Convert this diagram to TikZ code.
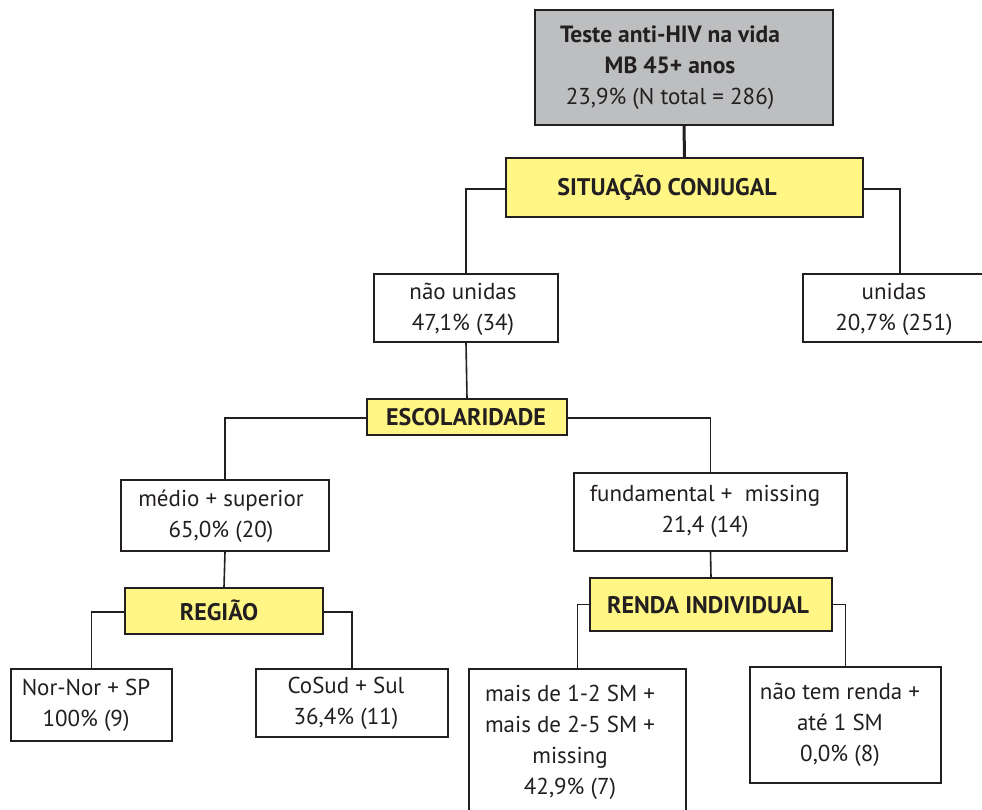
\documentclass[tikz,border=0pt]{standalone}
\usepackage{fontspec}
\setmainfont{PT Sans}
\definecolor{edge}{HTML}{231F20}
\definecolor{greyfill}{HTML}{BCBEC0}
\definecolor{yellowfill}{HTML}{FFF685}
\begin{document}
\begin{tikzpicture}[x=1pt,y=-1pt,
  box/.style={rectangle, draw=edge, line width=1.8pt, fill=white, inner sep=0pt},
  factor/.style={box, fill=yellowfill},
  root/.style={box, fill=greyfill},
  txt/.style={align=center, text=edge, inner sep=0pt, font=\fontsize{23}{31}\selectfont},
  btxt/.style={txt, font=\fontsize{24}{31}\selectfont\bfseries},
  link/.style={draw=edge, line width=1.6pt},
]
\clip (0,0) rectangle (982,810);
\fill[white] (0,0) rectangle (982,810);

% boxes
\node[root,   minimum width=298pt, minimum height=115pt] (top)    at (684,67.5)  {};
\node[factor, minimum width=357pt, minimum height=59pt]  (sit)    at (684.5,187.5) {};
\node[box,    minimum width=184pt, minimum height=68pt]  (nao)    at (466,308)   {};
\node[box,    minimum width=194pt, minimum height=68pt]  (uni)    at (900,308)   {};
\node[factor, minimum width=200pt, minimum height=36pt]  (esc)    at (467,417)   {};
\node[box,    minimum width=208pt, minimum height=71pt]  (med)    at (225,515.5) {};
\node[box,    minimum width=273pt, minimum height=78pt]  (fund)   at (710.5,512) {};
\node[factor, minimum width=198pt, minimum height=46pt]  (reg)    at (224,611)   {};
\node[factor, minimum width=242pt, minimum height=53pt]  (renda)  at (711,604.5) {};
\node[box,    minimum width=161pt, minimum height=72pt]  (nor)    at (91.5,705)  {};
\node[box,    minimum width=192pt, minimum height=68pt]  (cosud)  at (352,703)   {};
\node[box,    minimum width=217pt, minimum height=147pt] (mais)   at (577.5,742.5) {};
\node[box,    minimum width=191pt, minimum height=116pt] (semr)   at (845.5,725) {};

% texts
\node[txt] (topT) at (670,68) {{\fontsize{23.5}{31}\selectfont\bfseries Teste anti-HIV na vida}\\{\fontsize{23.5}{31}\selectfont\bfseries MB 45+ anos}\\23,9\% (N total = 286)};
\node[btxt] (sitT) at (667,188) {SITUAÇÃO CONJUGAL};
\node[txt] (naoT) at (463,309) {não unidas\\47,1\% (34)};
\node[txt] (uniT) at (894,309) {unidas\\20,7\% (251)};
\node[btxt] (escT) at (466,417) {ESCOLARIDADE};
\node[txt] (medT) at (221,516) {médio + superior\\65,0\% (20)};
\node[txt] (fundT) at (705,511) {fundamental +\ \ missing\\21,4 (14)};
\node[btxt] (regT) at (219,610) {REGIÃO};
\node[btxt] (rendaT) at (708,605) {RENDA INDIVIDUAL};
\node[txt] (norT) at (86,705.5) {Nor-Nor + SP\\100\% (9)};
\node[txt] (cosudT) at (346,703.5) {CoSud + Sul\\36,4\% (11)};
\node[txt] (maisT) at (570,742.5) {mais de 1-2 SM +\\mais de 2-5 SM +\\missing\\42,9\% (7)};
\node[txt] (semrT) at (840,725) {não tem renda +\\até 1 SM\\0,0\% (8)};

% connectors
\draw[link, line width=3pt] (top.south) -- (sit.north);
\draw[link] ([yshift=-1.5pt]sit.west) -| (nao.north);
\draw[link] ([yshift=-1.5pt]sit.east) -| (uni.north);
\draw[link] (nao.south) -- (esc.north);
\draw[link] ([yshift=-1pt]esc.west) -| (med.north);
\draw[link] ([yshift=-1pt]esc.east) -| (fund.north);
\draw[link] (med.south) -- (reg.north);
\draw[link] (fund.south) -- (renda.north);
\draw[link] ([yshift=-1pt]reg.west) -| (nor.north);
\draw[link] ([yshift=-1pt]reg.east) -| (cosud.north);
\draw[link] (renda.west) -| (mais.north);
\draw[link] (renda.east) -| (semr.north);
\end{tikzpicture}
\end{document}
